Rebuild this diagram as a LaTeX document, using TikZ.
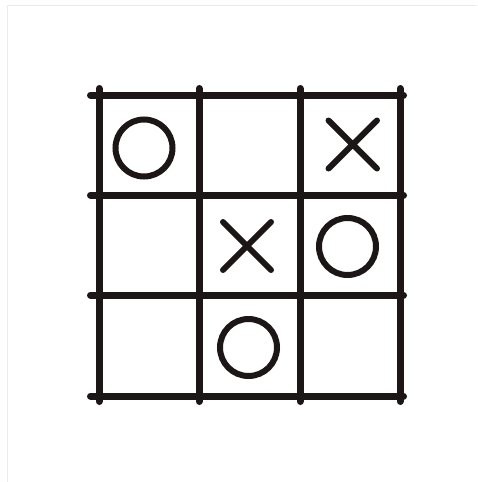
\documentclass[tikz,border=0pt]{standalone}
\begin{document}
\begin{tikzpicture}[x=1pt,y=-1pt,
  gridline/.style={line width=7pt,line cap=round,draw={rgb,255:red,28;green,22;blue,22}},
  playmark/.style={line width=6pt,line cap=round,draw={rgb,255:red,28;green,22;blue,22}},
  frameline/.style={line width=1pt,draw={rgb,255:red,235;green,235;blue,235}}]
\useasboundingbox (0,0) rectangle (477,482);
\fill[white] (0,0) rectangle (477,482);
% faint frame
\draw[frameline] (7,482) -- (7,5) -- (477,5);
% grid
\foreach \x in {99,199,300,400} \draw[gridline] (\x,88.5) -- (\x,401.5);
\foreach \y in {95,195,295,396} \draw[gridline] (90.5,\y) -- (403.5,\y);
% O marks
\draw[playmark] (144,148) circle (28.5);
\draw[playmark] (347.5,246.5) circle (28.5);
\draw[playmark] (248.5,347.5) circle (28.5);
% X marks
\draw[playmark] (328.5,120.5) -- (377,168.5) (377,120.5) -- (328.5,168.5);
\draw[playmark] (223,222) -- (271,270) (271,222) -- (223,270);
\end{tikzpicture}
\end{document}
